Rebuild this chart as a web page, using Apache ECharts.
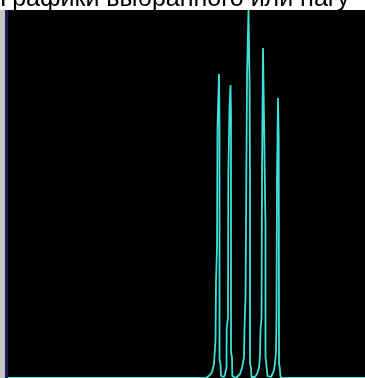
<!DOCTYPE html>
<html><head><meta charset="utf-8">
<script src="https://cdn.jsdelivr.net/npm/echarts@6/dist/echarts.min.js"></script>
<style>html,body{margin:0;padding:0;background:#fff}#c{width:365px;height:378px}</style>
</head><body><div id="c"></div>
<script>
var titleText = "Графики выбранного или нагу";
// signal samples: x position (sample index) and amplitude
var sampleX = [8,
  206,208,210,212,213,214,215.5,216,217,217.5,219,219.5,219.5,220.5,221,223,
  224,225,226.5,226.7,228,228.3,229.5,230.5,231,231,232,232.3,234,
  236,238,240,242,244,244.5,245.5,246,247,248.5,249.5,250,250,251,251.5,253,
  255,257,259,260,260.5,261.5,262,263,264,265.5,265.5,266.5,267.5,269,
  271,272.5,274,275,276,276.5,277,278,278.7,279,279,280,280.5,283,
  365];
var signal = [0,
  0,1,3,6,8,14,38,96,130,250,304,250,18,14,2,0,
  1,4,10,50,60,200,270,293,260,26,20,2,0,
  0,1,4,10,21,50,81,150,300,368,300,200,15,10,1,0,
  1,4,10,23,48,60,200,330,260,150,21,12,2,0,
  1,4,8,15,26,60,200,280,240,60,15,8,1,0,
  0];
var pts = sampleX.map(function(x,i){return [x, signal[i]];});
var chart = echarts.init(document.getElementById('c'), null, {renderer:'canvas'});
chart.setOption({
  animation:false,
  backgroundColor:'#ffffff',
  grid:{left:8, top:10, right:0, bottom:0, show:true, backgroundColor:'#000000', borderWidth:0},
  xAxis:{type:'value', min:8, max:365, show:false},
  yAxis:{type:'value', min:0, max:368, show:false},
  graphic:[
    {type:'rect', left:0, top:10, z:1, shape:{width:5, height:368}, style:{fill:'#c4c4c4'}},
    {type:'rect', left:5, top:10, z:1, shape:{width:3, height:368}, style:{fill:'#1c1c5a'}},
    {type:'text', x:0, y:-1, z:0, style:{text:titleText, font:'25px "Liberation Sans", Arial, sans-serif', fill:'#000', textVerticalAlign:'middle'}}
  ],
  series:[{
    type:'line', data:pts, showSymbol:false, symbol:'none', clip:true,
    lineStyle:{color:'#3ee0da', width:1.8}
  }]
});
</script></body></html>
